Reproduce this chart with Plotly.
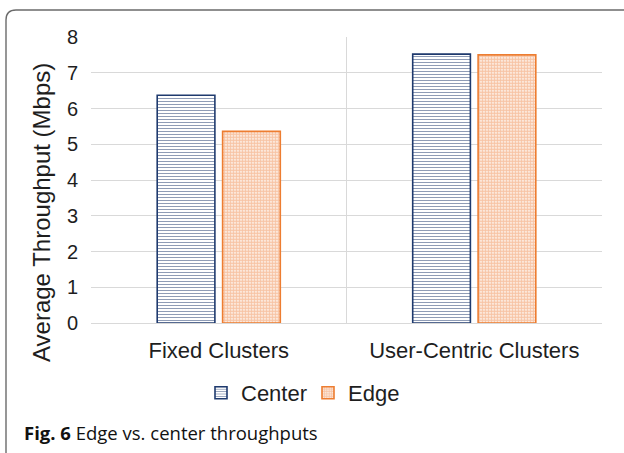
import plotly.graph_objects as go

# ---- data -------------------------------------------------------------
categories = ["Fixed Clusters", "User-Centric Clusters"]
center_throughput = [6.37, 7.52]
edge_throughput = [5.36, 7.50]
y_ticks = [0, 1, 2, 3, 4, 5, 6, 7, 8]

y_title = "Average Throughput (Mbps)"
caption = "<b>Fig. 6</b> Edge vs. center throughputs"

# ---- page geometry (pixels) ------------------------------------------
W, H = 624, 453
M_L, M_R, M_T, M_B = 91, 22, 37, 130
PW, PH = W - M_L - M_R, H - M_T - M_B


def px_x(x):
    """page x pixel -> paper coordinate"""
    return (x - M_L) / PW


def px_y(y):
    """page y pixel (from top) -> paper coordinate"""
    return (H - M_B - y) / PH


NAVY = "#1F3A6E"
ORANGE = "#ED7D31"
GRID = "#D9D9D9"
TEXT = "#1E1E1E"

fig = go.Figure()
fig.add_trace(go.Bar(
    name="Center", x=categories, y=center_throughput,
    marker=dict(
        color="white",
        line=dict(color=NAVY, width=1.6),
        pattern=dict(shape="-", fgcolor=NAVY, bgcolor="white",
                     size=3, solidity=0.35, fillmode="overlay"),
    ),
))
fig.add_trace(go.Bar(
    name="Edge", x=categories, y=edge_throughput,
    marker=dict(
        color="white",
        line=dict(color=ORANGE, width=1.6),
        pattern=dict(shape=".", fgcolor="#EF8A4C", bgcolor="white",
                     size=3, solidity=0.75, fillmode="overlay"),
    ),
))

# frame around the figure (rounded top-left corner, runs off the page)
x0, yt = px_x(6), px_y(10)
rx, ry = 10 / PW, 10 / PH
frame = (f"M {x0},{px_y(470)} L {x0},{yt - ry} "
         f"Q {x0},{yt} {x0 + rx},{yt} L {px_x(640)},{yt}")

fig.update_layout(
    width=W, height=H,
    margin=dict(l=M_L, r=M_R, t=M_T, b=M_B, autoexpand=False),
    paper_bgcolor="white", plot_bgcolor="white",
    barmode="group", bargap=0.488, bargroupgap=0.118,
    font=dict(family="Liberation Sans, Arial, sans-serif", color=TEXT),
    showlegend=True,
    legend=dict(
        orientation="h", xref="container", yref="container",
        x=0.5 - 4 / W, xanchor="center", y=1 - 393 / H, yanchor="middle",
        font=dict(size=22, color=TEXT), itemwidth=30,
        entrywidth=62, entrywidthmode="pixels",
        traceorder="normal",
    ),
    xaxis=dict(
        type="category", tickson="boundaries", showgrid=True,
        gridcolor=GRID, gridwidth=1.3, ticks="", showline=False,
        tickfont=dict(size=22, color=TEXT), ticklabelstandoff=12,
    ),
    yaxis=dict(
        range=[0, 8], tickvals=y_ticks, showgrid=True,
        gridcolor=GRID, gridwidth=1.3, zeroline=True,
        zerolinecolor=GRID, zerolinewidth=1.3, ticks="", showline=False,
        tickfont=dict(size=20, color=TEXT), ticklabelstandoff=12,
    ),
    shapes=[dict(type="path", xref="paper", yref="paper", path=frame,
                 line=dict(color="#6B6B6B", width=1.4))],
    annotations=[
        dict(text=y_title, textangle=-90, showarrow=False,
             xref="paper", yref="paper", x=px_x(41), y=px_y(213),
             xanchor="center", yanchor="middle",
             font=dict(size=24, color=TEXT)),
        dict(text=caption, showarrow=False,
             xref="paper", yref="paper", x=px_x(22), y=px_y(432),
             xanchor="left", yanchor="middle",
             font=dict(family="Open Sans, sans-serif", size=18.5,
                       color="#111111")),
    ],
)

fig.write_html("out.html")
